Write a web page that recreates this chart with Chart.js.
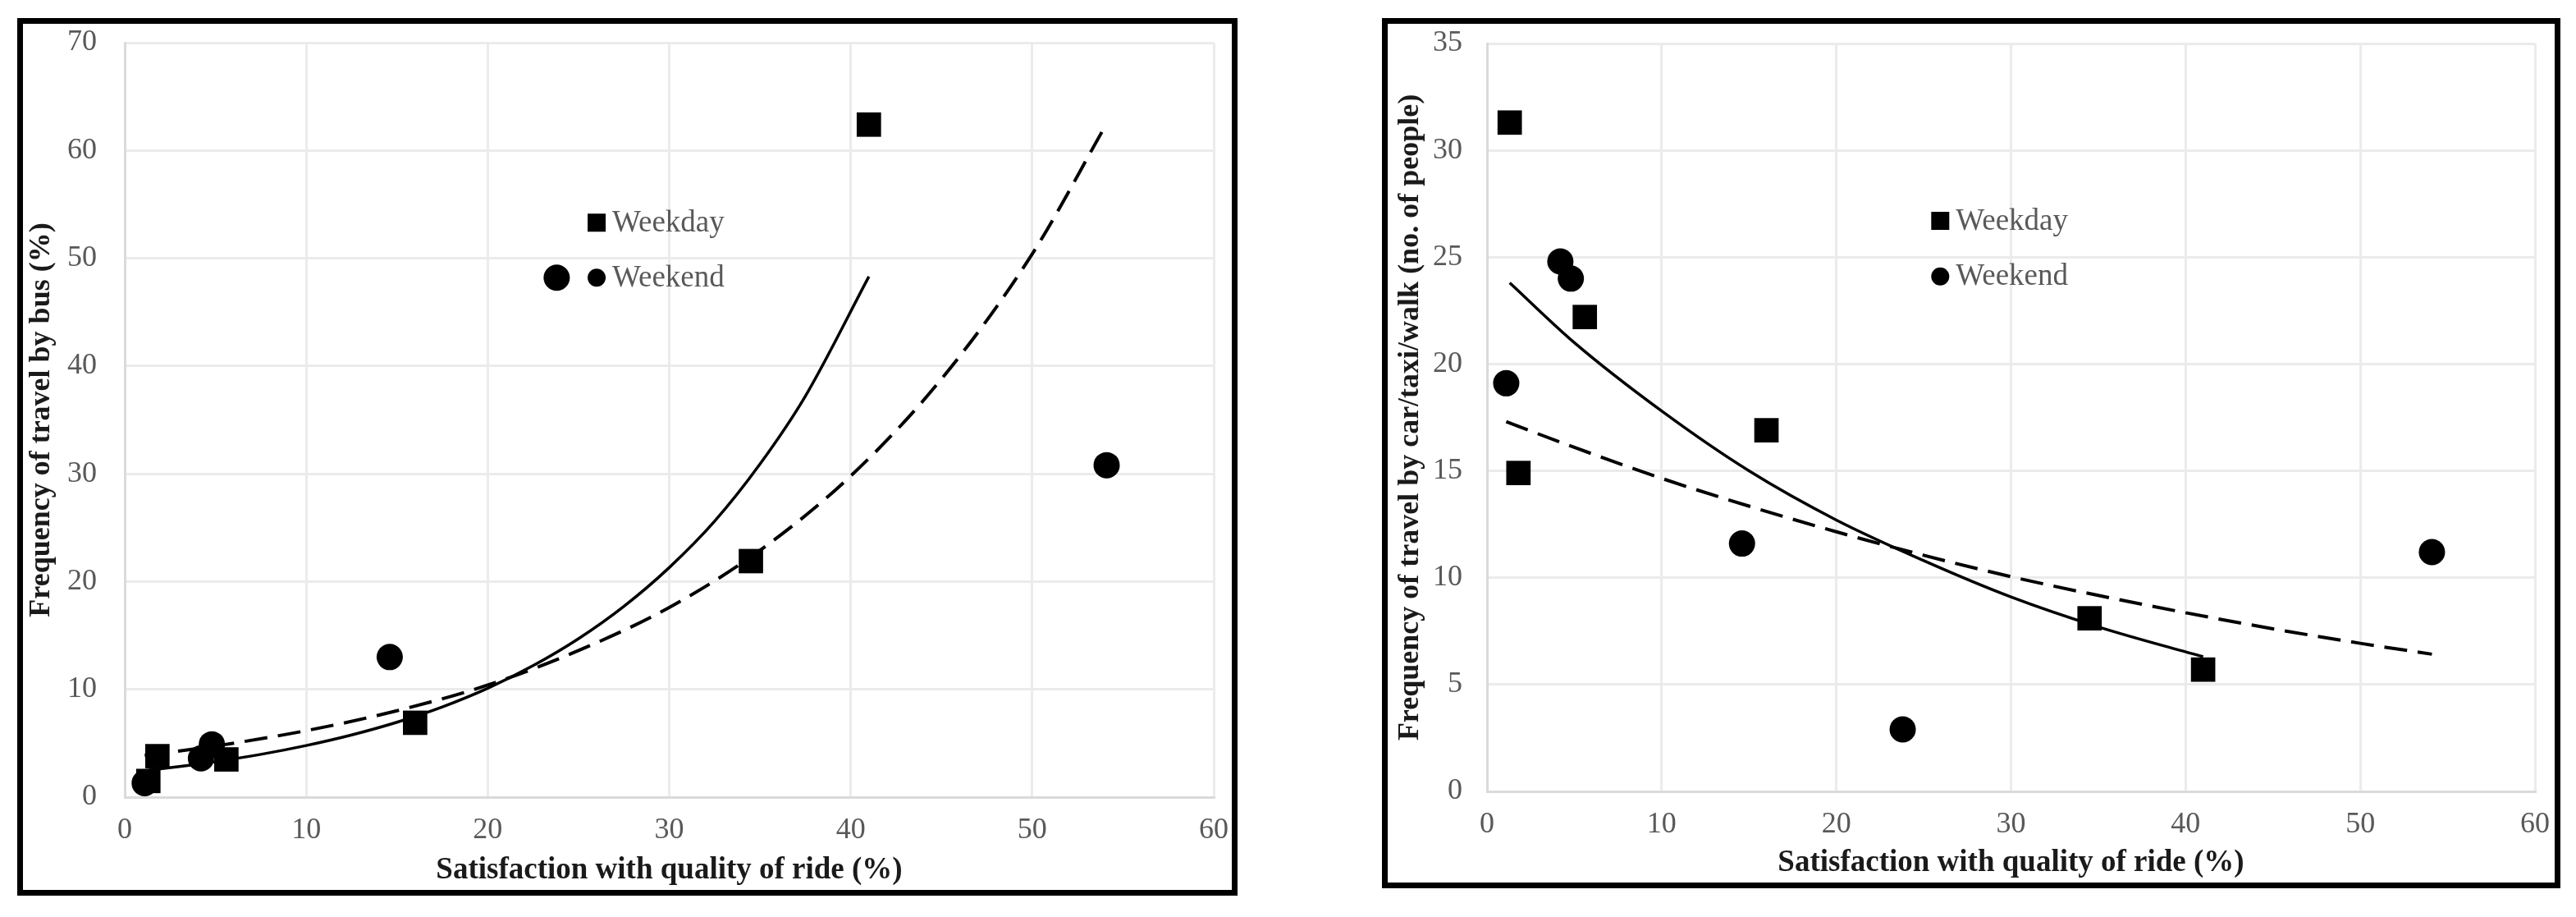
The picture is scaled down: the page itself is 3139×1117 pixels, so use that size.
<!DOCTYPE html>
<html>
<head>
<meta charset="utf-8">
<script src="https://cdn.jsdelivr.net/npm/chart.js@4.4.0/dist/chart.umd.min.js"></script>
<style>
html,body{margin:0;padding:0;background:#fff;width:3139px;height:1117px;overflow:hidden;}
.box{position:absolute;border:7px solid #000;background:#fff;}
#b1{left:21px;top:22px;width:1473px;height:1055px;}
#b2{left:1684px;top:22px;width:1422px;height:1046px;}
canvas{display:block;}
</style>
</head>
<body>
<div class="box" id="b1"><canvas id="c1" width="1473" height="1055"></canvas></div>
<div class="box" id="b2"><canvas id="c2" width="1422" height="1046"></canvas></div>
<script>
// ---------- data ----------
const seriesNames = ['Weekday', 'Weekend'];
const xTitle = 'Satisfaction with quality of ride (%)';
const yTitleBus = 'Frequency of travel by bus (%)';
const yTitleCar = 'Frequency of travel by car/taxi/walk (no. of people)';
const xTicks = [0, 10, 20, 30, 40, 50, 60];
const yTicksBus = [0, 10, 20, 30, 40, 50, 60, 70];
const yTicksCar = [0, 5, 10, 15, 20, 25, 30, 35];

// satisfaction (%) of each observation
const weekdayX = [1.3, 1.8, 5.6, 16.0, 34.5, 41.0];
const weekendX = [1.1, 4.2, 4.8, 14.6, 23.8, 54.1];

// left panel: bus
const busWeekday = [1.5, 3.8, 3.5, 6.9, 21.9, 62.4];
const busWeekend = [1.3, 3.6, 4.9, 13.0, 48.2, 30.8];
// right panel: car/taxi/walk
const carWeekday = [31.3, 14.9, 22.2, 16.9, 8.1, 5.7];
const carWeekend = [19.1, 24.8, 24.0, 11.6, 2.9, 11.2];

// trend curves
const busWeekdayTrendX = [1.3, 3, 5, 7.5, 10, 12.5, 15, 17.5, 20, 22.5, 25, 27.5, 30, 32.5, 35, 37.5, 41];
const busWeekdayTrendY = [2.5, 2.84, 3.3, 3.97, 4.79, 5.77, 6.95, 8.37, 10.1, 12.2, 14.7, 17.7, 21.3, 25.6, 30.9, 37.2, 48.3];
const busWeekendTrendX = [1.1, 5, 10, 15, 20, 25, 30, 35, 40, 45, 50, 54.1];
const busWeekendTrendY = [3.87, 4.75, 6.17, 8.02, 10.4, 13.6, 17.6, 22.9, 29.8, 38.8, 50.4, 62.5];
const carWeekdayTrendX = [1.3, 5, 10, 15, 20, 25, 30, 35, 41];
const carWeekdayTrendY = [23.8, 21.0, 17.8, 15.0, 12.7, 10.8, 9.1, 7.7, 6.3];
const carWeekendTrendX = [1.1, 5, 10, 15, 20, 25, 30, 35, 40, 45, 50, 54.1];
const carWeekendTrendY = [17.3, 16.1, 14.65, 13.35, 12.15, 11.05, 10.05, 9.17, 8.36, 7.61, 6.93, 6.42];

// ---------- helpers ----------
const pts = (xs, ys) => xs.map((x, i) => ({x: x, y: ys[i]}));
const FONT = "'Liberation Serif', 'Times New Roman', serif";

const inlineLegend = {
  id: 'inlineLegend',
  afterDatasetsDraw(chart, args, o) {
    const ctx = chart.ctx;
    const xs = chart.scales.x, ys = chart.scales.y;
    const px = xs.getPixelForValue(o.x);
    const p1 = ys.getPixelForValue(o.y1);
    const p2 = ys.getPixelForValue(o.y2);
    ctx.save();
    ctx.fillStyle = '#000';
    ctx.fillRect(px - 11, p1 - 11, 22, 22);
    ctx.beginPath();
    ctx.arc(px, p2, 11, 0, Math.PI * 2);
    ctx.fill();
    ctx.fillStyle = '#595959';
    ctx.font = '37px ' + FONT;
    ctx.textBaseline = 'middle';
    ctx.textAlign = 'left';
    ctx.fillText(seriesNames[0], px + 19, p1 + 1);
    ctx.fillText(seriesNames[1], px + 19, p2 + 1);
    ctx.restore();
  }
};

// the scales must not push the plot area inwards for their label overhang
const noOverhang = s => { s.paddingTop = 0; s.paddingBottom = 0; s.paddingLeft = 0; s.paddingRight = 0; };

function makeChart(id, o) {
  const tickFont = {family: FONT, size: 36};
  return new Chart(document.getElementById(id), {
    type: 'scatter',
    data: {
      datasets: [
        {label: seriesNames[0], data: pts(weekdayX, o.wd), pointStyle: 'rect', pointRadius: 21,
         backgroundColor: '#000', borderColor: '#000', borderWidth: 0, order: 0},
        {label: seriesNames[1], data: pts(weekendX, o.we), pointStyle: 'circle', pointRadius: 16,
         backgroundColor: '#000', borderColor: '#000', borderWidth: 0, order: 0},
        {label: 'wdTrend', data: pts(o.wdTx, o.wdTy), showLine: true, pointRadius: 0,
         borderColor: '#000', borderWidth: 3.5, cubicInterpolationMode: 'monotone', order: 1},
        {label: 'weTrend', data: pts(o.weTx, o.weTy), showLine: true, pointRadius: 0,
         borderColor: '#000', borderWidth: 4, borderDash: [28, 13], cubicInterpolationMode: 'monotone', order: 1}
      ]
    },
    options: {
      responsive: false,
      devicePixelRatio: 1,
      animation: false,
      layout: {autoPadding: false, padding: {top: o.t.top, right: o.W - o.t.right, left: 0, bottom: 0}},
      plugins: {
        legend: {display: false},
        tooltip: {enabled: false},
        inlineLegend: o.legend
      },
      scales: {
        x: {
          type: 'linear', min: 0, max: 60,
          afterBuildTicks: s => { s.ticks = xTicks.map(v => ({value: v})); },
          ticks: {color: '#595959', font: tickFont, padding: 19},
          grid: {color: '#ebebeb', lineWidth: 3, drawTicks: false},
          border: {color: '#dadada', width: 3},
          title: {display: true, text: xTitle, color: '#1a1a1a',
                  font: {family: FONT, size: 37, weight: 'bold'}, padding: {top: 0, bottom: 1}},
          afterFit: s => { s.height = o.xH; noOverhang(s); }
        },
        y: {
          type: 'linear', min: 0, max: o.yTicks[o.yTicks.length - 1],
          afterBuildTicks: s => { s.ticks = o.yTicks.map(v => ({value: v})); },
          ticks: {color: '#595959', font: tickFont, padding: o.yPad},
          grid: {color: '#ebebeb', lineWidth: 3, drawTicks: false},
          border: {color: '#dadada', width: 3},
          title: {display: true, text: o.yTitle, color: '#1a1a1a',
                  font: {family: FONT, size: o.yTitleSize, weight: 'bold'}, padding: {top: o.yTitlePad, bottom: 0}},
          afterFit: s => { s.width = o.yW; noOverhang(s); }
        }
      }
    },
    plugins: [inlineLegend]
  });
}

// force the plot area to the target rectangle (t) measured on the reference
function fitArea(ch, o) {
  for (let i = 0; i < 6; i++) {
    const a = ch.chartArea;
    const dT = o.t.top - a.top, dR = a.right - o.t.right, dB = a.bottom - o.t.bottom, dL = o.t.left - a.left;
    if (Math.abs(dT) < 0.5 && Math.abs(dR) < 0.5 && Math.abs(dB) < 0.5 && Math.abs(dL) < 0.5) break;
    const p = ch.options.layout.padding;
    ch.options.layout.padding = {top: p.top + dT, right: p.right + dR, left: p.left, bottom: p.bottom};
    o.xH += dB;
    o.yW += dL;
    ch.update('none');
  }
}

const o1 = {
  wd: busWeekday, we: busWeekend,
  wdTx: busWeekdayTrendX, wdTy: busWeekdayTrendY,
  weTx: busWeekendTrendX, weTy: busWeekendTrendY,
  yTicks: yTicksBus, yTitle: yTitleBus, yTitleSize: 36,
  W: 1473, t: {left: 124, top: 23, right: 1451, bottom: 942},
  xH: 113, yW: 124, yPad: 34, yTitlePad: 1,
  legend: {x: 26.0, y1: 53.3, y2: 48.2}
};
const o2 = {
  wd: carWeekday, we: carWeekend,
  wdTx: carWeekdayTrendX, wdTy: carWeekdayTrendY,
  weTx: carWeekendTrendX, weTy: carWeekendTrendY,
  yTicks: yTicksCar, yTitle: yTitleCar, yTitleSize: 36,
  W: 1422, t: {left: 121, top: 24, right: 1398, bottom: 935},
  xH: 111, yW: 121, yPad: 30, yTitlePad: 6,
  legend: {x: 25.95, y1: 26.7, y2: 24.1}
};
fitArea(makeChart('c1', o1), o1);
fitArea(makeChart('c2', o2), o2);
</script>
</body>
</html>
